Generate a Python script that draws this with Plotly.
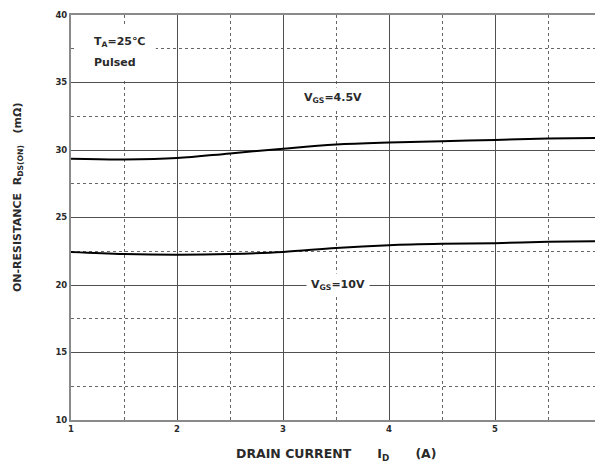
import plotly.graph_objects as go

drain_current = [1, 1.5, 2, 2.5, 3, 3.5, 4, 4.5, 5, 5.5, 6]
r_vgs_4p5 = [29.35, 29.3, 29.4, 29.75, 30.1, 30.4, 30.55, 30.65, 30.75, 30.85, 30.9]
r_vgs_10 = [22.45, 22.3, 22.25, 22.3, 22.45, 22.75, 22.95, 23.05, 23.1, 23.2, 23.25]
x_ticks = [1, 2, 3, 4, 5, 6]
y_ticks = [10, 15, 20, 25, 30, 35, 40]

FONT = "DejaVu Sans"
TXT = "#2a2a2a"

fig = go.Figure()
for ys in (r_vgs_4p5, r_vgs_10):
    fig.add_trace(go.Scatter(x=drain_current, y=ys, mode="lines",
                             line=dict(color="black", width=2, shape="spline"),
                             showlegend=False))

axis_common = dict(
    showline=True, linecolor="#8a8a8a", linewidth=2, mirror=True,
    showgrid=True, gridcolor="#505050", gridwidth=1.3,
    ticks="", zeroline=False, automargin=False,
    tickfont=dict(family=FONT, size=8.5, color=TXT, weight="bold"),
)
fig.update_xaxes(range=[1, 6], tickvals=x_ticks, ticktext=[str(v) for v in x_ticks],
                 ticklabeloverflow="allow",
                 minor=dict(dtick=0.5, showgrid=True, griddash="dot",
                            gridcolor="#666", gridwidth=1),
                 **axis_common)
fig.update_yaxes(range=[10, 40], tickvals=y_ticks, ticktext=[str(v) for v in y_ticks],
                 minor=dict(dtick=2.5, showgrid=True, griddash="dot",
                            gridcolor="#666", gridwidth=1),
                 **axis_common)

# white box behind the condition labels (covers grid there, as in the reference)
fig.add_shape(type="rect", xref="x", yref="y", x0=1.04, x1=1.8, y0=35.3, y1=39.2,
              fillcolor="white", line=dict(width=0), layer="above")

ann_font = dict(family=FONT, size=11, color=TXT, weight="bold")
fig.add_annotation(x=1.2, y=38.0, xref="x", yref="y", text="T<sub>A</sub>=25℃",
                   showarrow=False, xanchor="left", font=ann_font)
fig.add_annotation(x=1.2, y=36.45, xref="x", yref="y", text="Pulsed",
                   showarrow=False, xanchor="left", font=ann_font)
fig.add_annotation(x=3.47, y=33.85, xref="x", yref="y", text="V<sub>GS</sub>=4.5V",
                   showarrow=False, bgcolor="white", borderpad=3, font=ann_font)
fig.add_annotation(x=3.52, y=20, xref="x", yref="y", text="V<sub>GS</sub>=10V",
                   showarrow=False, bgcolor="white", borderpad=4, font=ann_font)

# axis titles placed by pixel position (plot area: x 71..601, y 15..420 on screen)
fig.add_annotation(x=(18 - 71) / 530, y=(420 - 198) / 405, xref="paper", yref="paper",
                   text="ON-RESISTANCE  R<sub>DS(ON)</sub>   (mΩ)", textangle=-90,
                   showarrow=False, xanchor="center", yanchor="middle",
                   font=dict(family=FONT, size=11, color=TXT, weight="bold"))
fig.add_annotation(x=(336 - 71) / 530, y=(420 - 454) / 405, xref="paper", yref="paper",
                   text="DRAIN CURRENT      I<sub>D</sub>      (A)",
                   showarrow=False, xanchor="center", yanchor="middle",
                   font=dict(family=FONT, size=12.5, color=TXT, weight="bold"))

# the page body adds an 8px offset; the figure is sized and its margins set so the
# plot area sits where the reference has it (x 71..601, y 15..420 in the window)
fig.update_layout(width=595, height=460,
                  margin=dict(l=63, r=2, t=7, b=48),
                  paper_bgcolor="white", plot_bgcolor="white")

fig.write_html("out.html")
